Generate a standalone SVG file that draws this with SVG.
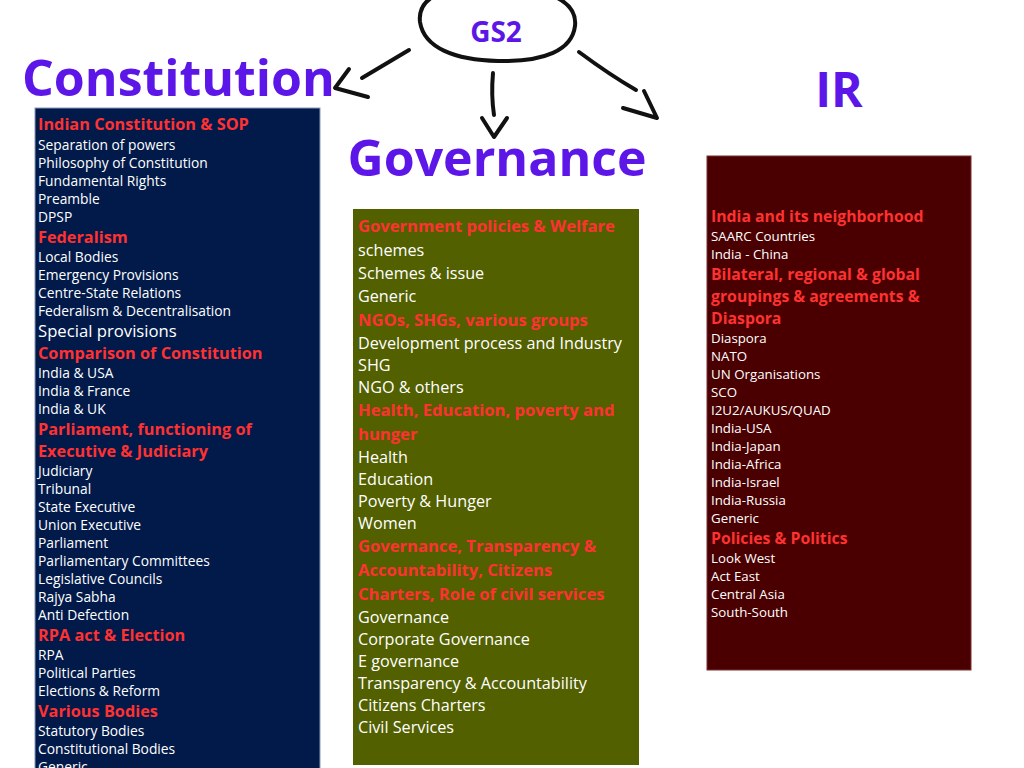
<svg xmlns="http://www.w3.org/2000/svg" width="1024" height="768" viewBox="0 0 1024 768">
<style>
.title{font-family:"Open Sans","Noto Sans",sans-serif;font-weight:700;fill:#5c17e8}
.h{font-family:"Open Sans","Noto Sans",sans-serif;font-weight:700;fill:#ff3131}
.t{font-family:"Open Sans","Noto Sans",sans-serif;fill:#ffffff}
.c .h{font-size:16.3px}
.c .t{font-size:13.8px}
.c .big{font-size:16.7px}
.g .h{font-size:16.6px}
.g .t{font-size:16.2px}
.i .h{font-size:15.8px}
.i .t{font-size:13.3px}
.conn{fill:none;stroke:#111;stroke-width:4;stroke-linecap:round;stroke-linejoin:round}
</style>
<rect width="1024" height="768" fill="#ffffff"/>

<g id="gs2">
<path d="M420,22 C416,-12 470,-16 500,-14 C545,-12 578,0 575,26 C572,50 545,62 498,61 C455,60 424,48 420,22 Z" fill="none" stroke="#111" stroke-width="4"/>
<text class="title" x="496" y="42" font-size="28" text-anchor="middle">GS2</text>
</g>

<g id="connectors">
<path class="conn" d="M409,50 L362,78"/>
<path class="conn" d="M349,69 L335,88 L368,97"/>
<path class="conn" d="M493,73 Q491,95 494,115"/>
<path class="conn" d="M482,118 L494,137 L507,118"/>
<path class="conn" d="M579,52 Q610,75 636,90"/>
<path class="conn" d="M644,91 L657,118 L623,108"/>
</g>

<g id="constitution" class="c">
<text class="title" x="22" y="96" font-size="50">Constitution</text>
<rect x="35" y="108" width="285" height="665" fill="#011a4a" stroke="#8a9ab8" stroke-width="1"/>
<text class="h" x="38" y="130">Indian Constitution &amp; SOP</text>
<text class="t" x="38" y="150">Separation of powers</text>
<text class="t" x="38" y="168">Philosophy of Constitution</text>
<text class="t" x="38" y="186">Fundamental Rights</text>
<text class="t" x="38" y="204">Preamble</text>
<text class="t" x="38" y="222">DPSP</text>
<text class="h" x="38" y="243">Federalism</text>
<text class="t" x="38" y="262">Local Bodies</text>
<text class="t" x="38" y="280">Emergency Provisions</text>
<text class="t" x="38" y="298">Centre-State Relations</text>
<text class="t" x="38" y="316">Federalism &amp; Decentralisation</text>
<text class="t big" x="38" y="337">Special provisions</text>
<text class="h" x="38" y="359">Comparison of Constitution</text>
<text class="t" x="38" y="378">India &amp; USA</text>
<text class="t" x="38" y="396">India &amp; France</text>
<text class="t" x="38" y="414">India &amp; UK</text>
<text class="h" x="38" y="435">Parliament, functioning of</text>
<text class="h" x="38" y="457">Executive &amp; Judiciary</text>
<text class="t" x="38" y="476">Judiciary</text>
<text class="t" x="38" y="494">Tribunal</text>
<text class="t" x="38" y="512">State Executive</text>
<text class="t" x="38" y="530">Union Executive</text>
<text class="t" x="38" y="548">Parliament</text>
<text class="t" x="38" y="566">Parliamentary Committees</text>
<text class="t" x="38" y="584">Legislative Councils</text>
<text class="t" x="38" y="602">Rajya Sabha</text>
<text class="t" x="38" y="620">Anti Defection</text>
<text class="h" x="38" y="641">RPA act &amp; Election</text>
<text class="t" x="38" y="660">RPA</text>
<text class="t" x="38" y="678">Political Parties</text>
<text class="t" x="38" y="696">Elections &amp; Reform</text>
<text class="h" x="38" y="717">Various Bodies</text>
<text class="t" x="38" y="736">Statutory Bodies</text>
<text class="t" x="38" y="754">Constitutional Bodies</text>
<text class="t" x="38" y="772">Generic</text>
</g>

<g id="governance" class="g">
<text class="title" x="497" y="176" font-size="50" text-anchor="middle">Governance</text>
<rect x="353" y="209" width="286" height="556" fill="#526000"/>
<text class="h" x="358" y="232">Government policies &amp; Welfare</text>
<text class="t" x="358" y="256">schemes</text>
<text class="t" x="358" y="279">Schemes &amp; issue</text>
<text class="t" x="358" y="302">Generic</text>
<text class="h" x="358" y="326">NGOs, SHGs, various groups</text>
<text class="t" x="358" y="349">Development process and Industry</text>
<text class="t" x="358" y="371">SHG</text>
<text class="t" x="358" y="393">NGO &amp; others</text>
<text class="h" x="358" y="416">Health, Education, poverty and</text>
<text class="h" x="358" y="440">hunger</text>
<text class="t" x="358" y="463">Health</text>
<text class="t" x="358" y="485">Education</text>
<text class="t" x="358" y="507">Poverty &amp; Hunger</text>
<text class="t" x="358" y="529">Women</text>
<text class="h" x="358" y="552">Governance, Transparency &amp;</text>
<text class="h" x="358" y="576">Accountability, Citizens</text>
<text class="h" x="358" y="600">Charters, Role of civil services</text>
<text class="t" x="358" y="623">Governance</text>
<text class="t" x="358" y="645">Corporate Governance</text>
<text class="t" x="358" y="667">E governance</text>
<text class="t" x="358" y="689">Transparency &amp; Accountability</text>
<text class="t" x="358" y="711">Citizens Charters</text>
<text class="t" x="358" y="733">Civil Services</text>
</g>

<g id="ir" class="i">
<text class="title" x="839" y="107" font-size="48" text-anchor="middle">IR</text>
<rect x="707" y="156" width="264" height="514" fill="#4a0000" stroke="#7a3030" stroke-width="1"/>
<text class="h" x="711" y="222">India and its neighborhood</text>
<text class="t" x="711" y="241">SAARC Countries</text>
<text class="t" x="711" y="259">India - China</text>
<text class="h" x="711" y="280">Bilateral, regional &amp; global</text>
<text class="h" x="711" y="302">groupings &amp; agreements &amp;</text>
<text class="h" x="711" y="324">Diaspora</text>
<text class="t" x="711" y="343">Diaspora</text>
<text class="t" x="711" y="361">NATO</text>
<text class="t" x="711" y="379">UN Organisations</text>
<text class="t" x="711" y="397">SCO</text>
<text class="t" x="711" y="415">I2U2/AUKUS/QUAD</text>
<text class="t" x="711" y="433">India-USA</text>
<text class="t" x="711" y="451">India-Japan</text>
<text class="t" x="711" y="469">India-Africa</text>
<text class="t" x="711" y="487">India-Israel</text>
<text class="t" x="711" y="505">India-Russia</text>
<text class="t" x="711" y="523">Generic</text>
<text class="h" x="711" y="544">Policies &amp; Politics</text>
<text class="t" x="711" y="563">Look West</text>
<text class="t" x="711" y="581">Act East</text>
<text class="t" x="711" y="599">Central Asia</text>
<text class="t" x="711" y="617">South-South</text>
</g>
</svg>
